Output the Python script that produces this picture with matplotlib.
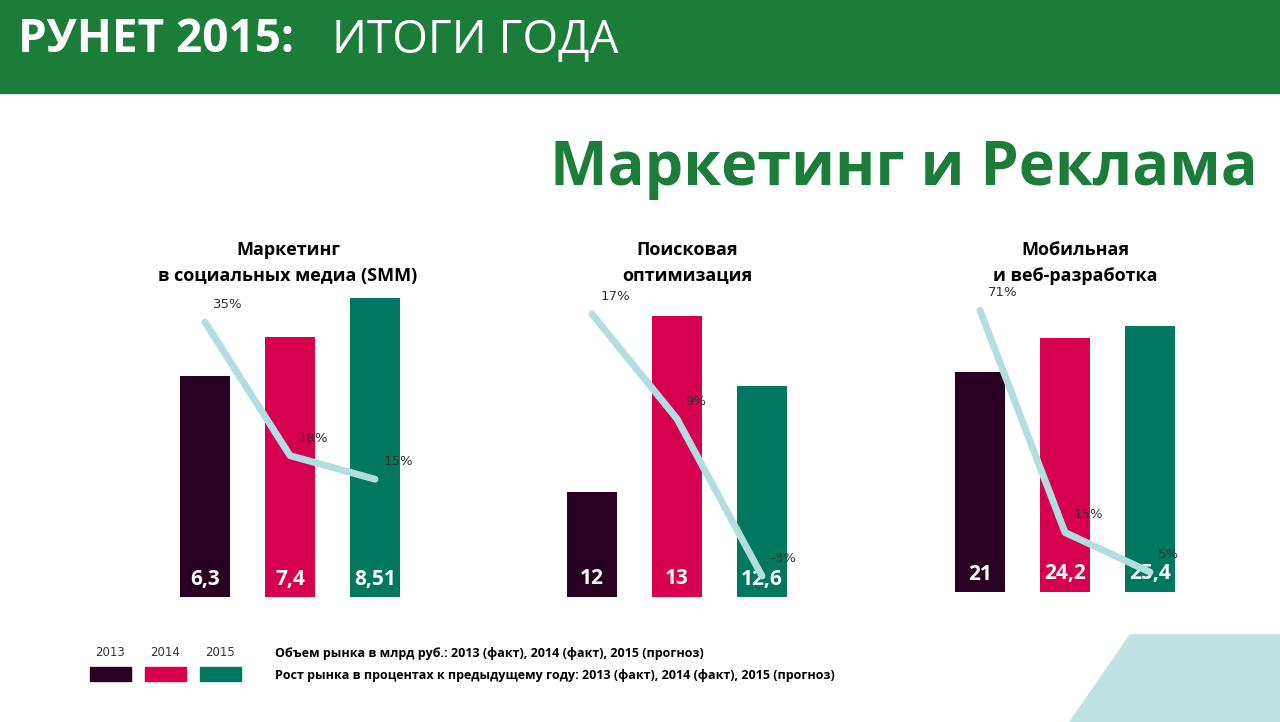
import matplotlib
matplotlib.use("Agg")
import matplotlib.pyplot as plt
from matplotlib.patches import Rectangle, Polygon

years = ["2013", "2014", "2015"]
titles = ["Маркетинг\nв социальных медиа (SMM)", "Поисковая\nоптимизация", "Мобильная\nи веб-разработка"]
market = [[6.3, 7.4, 8.51], [12, 13, 12.6], [21, 24.2, 25.4]]
market_labels = [["6,3", "7,4", "8,51"], ["12", "13", "12,6"], ["21", "24,2", "25,4"]]
growth = [[35, 18, 15], [17, 9, -3], [71, 15, 5]]
growth_labels = [["35%", "18%", "15%"], ["17%", "9%", "-3%"], ["71%", "15%", "5%"]]

colors = ["#2a0022", "#d6004f", "#00775f"]
line_color = "#b3dedf"
green = "#1c7c3a"

W, H = 1280, 722
fig = plt.figure(figsize=(12.8, 7.22), dpi=100)
fig.patch.set_facecolor("white")

def px(x0, y0, w, h):
    return [x0 / W, 1 - (y0 + h) / H, w / W, h / H]

# header
bg = fig.add_axes([0, 0, 1, 1]); bg.set_xlim(0, W); bg.set_ylim(H, 0); bg.axis("off")
bg.add_patch(Rectangle((0, 0), W, 93, color=green))
bg.add_patch(Polygon([[1070, 722], [1130, 635], [1280, 635], [1280, 722]], color="#bfe3e1"))
fig.text(18 / W, 1 - 40 / H, "РУНЕТ 2015:", color="white", fontsize=33, fontweight="bold", va="center", family="Open Sans")
fig.text(332 / W, 1 - 40 / H, "ИТОГИ ГОДА", color="white", fontsize=33, va="center", family="Open Sans")
fig.text(1258 / W, 1 - 170 / H, "Маркетинг и Реклама", color=green, fontsize=44, fontweight="bold",
         ha="right", va="center", family="Open Sans")

# panels: (x0, bottom px, bar ylim, line ylim, title center x)
panels = [
    (145.5, 597, (0, 8.54), (0, 38.2), 288),
    (532.5, 597, (11.4, 13.11), (-4.6, 18.3), 687),
    (920.5, 592, (0, 28.6), (0, 75.6), 1075),
]
step = 85
for i, (x0, yb, bl, ll, tx) in enumerate(panels):
    ax = fig.add_axes(px(x0, yb - 300, 3.4 * step, 300))
    xs = [0, 1, 2]
    ax.bar(xs, market[i], width=0.59, color=colors, bottom=0 if bl[0] == 0 else bl[0],
           ) if False else ax.bar(xs, [m - bl[0] for m in market[i]], bottom=bl[0], width=0.59, color=colors)
    ax.set_xlim(-0.7, 2.7); ax.set_ylim(*bl); ax.axis("off")
    for x, lab in zip(xs, market_labels[i]):
        ax.text(x, bl[0] + (bl[1] - bl[0]) * 0.06, lab, color="white", fontsize=15, fontweight="bold",
                ha="center", va="center", family="Open Sans")
    ax2 = ax.twinx()
    ax2.set_ylim(*ll); ax2.axis("off")
    ax2.plot(xs, growth[i], color=line_color, lw=5, solid_capstyle="round", zorder=3)
    for x, g, lab in zip(xs, growth[i], growth_labels[i]):
        ax2.annotate(lab, (x, g), xytext=(6, 8), textcoords="offset points", fontsize=9.5,
                     color="#333333", va="bottom", ha="left", zorder=4)
    fig.text(tx / W, 1 - 263 / H, titles[i], ha="center", va="center", fontsize=13, fontweight="bold",
             linespacing=1.6, family="Open Sans")

# legend
for j, (yr, c) in enumerate(zip(years, colors)):
    cx = 110 + j * 55
    fig.text(cx / W, 1 - 653 / H, yr, ha="center", va="center", fontsize=8.5, color="#333333")
    bg.add_patch(Rectangle((cx - 20, 667), 41, 14, color=c))
fig.text(275 / W, 1 - 654 / H, "Объем рынка в млрд руб.: 2013 (факт), 2014 (факт), 2015 (прогноз)",
         fontsize=9, fontweight="bold", va="center", family="Open Sans")
fig.text(275 / W, 1 - 676 / H, "Рост рынка в процентах к предыдущему году: 2013 (факт), 2014 (факт), 2015 (прогноз)",
         fontsize=9, fontweight="bold", va="center", family="Open Sans")

fig.savefig("out.png", dpi=100)
